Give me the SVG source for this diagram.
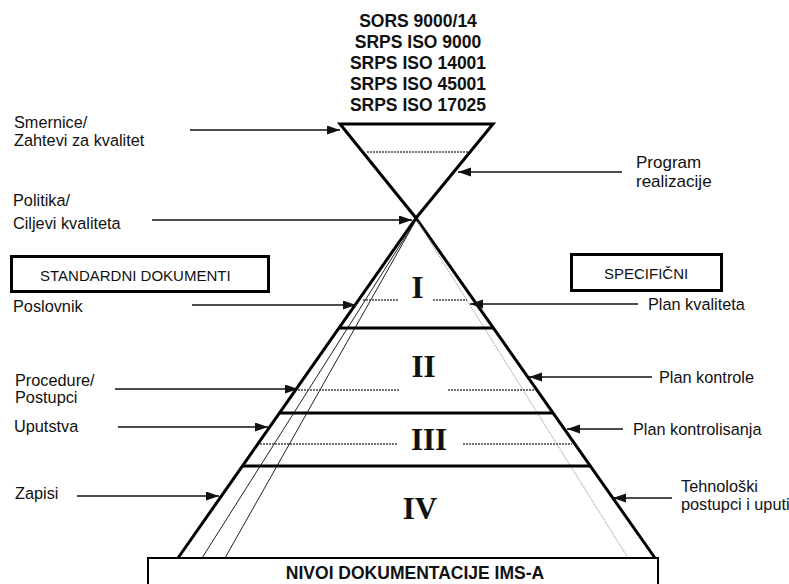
<svg xmlns="http://www.w3.org/2000/svg" width="789" height="584" viewBox="0 0 789 584">
<style>
text{font-family:"Liberation Sans",Arial,sans-serif;fill:#111}
.lbl{font-size:16.3px}
.hdr{font-size:17.5px;font-weight:bold;text-anchor:middle}
.rom{font-family:"Liberation Serif","Times New Roman",serif;font-size:31px;font-weight:bold;text-anchor:middle}
.thick{stroke:#000;stroke-width:3;fill:none}
.thin{stroke:#222;stroke-width:1;fill:none}
.dot{stroke:#444;stroke-width:1.3;stroke-dasharray:2 1;fill:none}
.arr{stroke:#111;stroke-width:1.5;fill:none;marker-end:url(#ah)}
.box{fill:#fff;stroke:#000;stroke-width:3}
</style>
<defs>
<marker id="ah" markerUnits="userSpaceOnUse" markerWidth="14" markerHeight="10" refX="13" refY="4.5" orient="auto">
<path d="M0,0 L13,4.5 L0,9 z" fill="#111"/>
</marker>
</defs>
<rect width="789" height="584" fill="#fff"/>

<g id="standards">
<text class="hdr" x="418" y="27">SORS 9000/14</text>
<text class="hdr" x="418" y="48">SRPS ISO 9000</text>
<text class="hdr" x="418" y="69">SRPS ISO 14001</text>
<text class="hdr" x="418" y="90">SRPS ISO 45001</text>
<text class="hdr" x="418" y="111">SRPS ISO 17025</text>
</g>

<g id="funnel">
<path class="thick" d="M340,124 L493,124 L416,218 Z" stroke-linejoin="miter"/>
<line class="dot" x1="367" y1="152" x2="468" y2="152"/>
</g>

<g id="pyramid">
<line class="thick" x1="416" y1="218" x2="178" y2="558"/>
<line class="thick" x1="416" y1="218" x2="655" y2="558"/>
<line class="thin" x1="416" y1="220" x2="202" y2="558"/>
<line class="thin" x1="416" y1="220" x2="225" y2="558"/>
<line x1="418" y1="222" x2="628" y2="558" stroke="#999" stroke-width="1" stroke-dasharray="1.5 1"/>
<line class="thick" x1="339" y1="328" x2="493" y2="328"/>
<line class="thick" x1="279" y1="413" x2="553" y2="413"/>
<line class="thick" x1="242" y1="466" x2="590" y2="466"/>
<line class="dot" x1="363" y1="300" x2="398" y2="300"/>
<line class="dot" x1="433" y1="300" x2="467" y2="300"/>
<line class="dot" x1="298" y1="390" x2="399" y2="390"/>
<line class="dot" x1="448" y1="390" x2="535" y2="390"/>
<line class="dot" x1="260" y1="444" x2="397" y2="444"/>
<line class="dot" x1="463" y1="444" x2="572" y2="444"/>
</g>

<g id="level-I"><text class="rom" x="417.5" y="298">I</text></g>
<g id="level-II"><text class="rom" x="423.5" y="377">II</text></g>
<g id="level-III"><text class="rom" x="429" y="450">III</text></g>
<g id="level-IV"><text class="rom" x="420" y="519">IV</text></g>

<g id="connectors">
<line class="arr" x1="190" y1="130" x2="340" y2="130"/>
<line class="arr" x1="152" y1="220" x2="412" y2="220"/>
<line class="arr" x1="622" y1="172" x2="458" y2="172"/>
<line class="arr" x1="192" y1="305" x2="356" y2="305"/>
<line class="arr" x1="638" y1="304" x2="470" y2="304"/>
<line class="arr" x1="115" y1="389" x2="298" y2="389"/>
<line class="arr" x1="652" y1="377" x2="529" y2="377"/>
<line class="arr" x1="118" y1="427" x2="268" y2="427"/>
<line class="arr" x1="623" y1="429" x2="567" y2="429"/>
<line class="arr" x1="77" y1="496" x2="219" y2="496"/>
<line class="arr" x1="672" y1="498" x2="613" y2="498"/>
</g>

<g id="label-smernice"><text class="lbl" x="14" y="128">Smernice/</text><text class="lbl" x="14" y="146">Zahtevi za kvalitet</text></g>
<g id="label-politika"><text class="lbl" x="13" y="206">Politika/</text><text class="lbl" x="13" y="229">Ciljevi kvaliteta</text></g>
<g id="label-program"><text x="636" y="168" font-size="17">Program</text><text x="636" y="187" font-size="17">realizacije</text></g>

<g id="box-standardni">
<rect class="box" x="11.5" y="256.5" width="257" height="35"/>
<text x="40" y="281" font-size="15">STANDARDNI DOKUMENTI</text>
</g>
<g id="box-specificni">
<rect class="box" x="571.5" y="254.5" width="150" height="36"/>
<text x="604" y="279" font-size="15">SPECIFIČNI</text>
</g>

<g id="label-poslovnik"><text class="lbl" x="13" y="312">Poslovnik</text></g>
<g id="label-procedure"><text class="lbl" x="15" y="386">Procedure/</text><text class="lbl" x="15" y="403">Postupci</text></g>
<g id="label-uputstva"><text class="lbl" x="14" y="432">Uputstva</text></g>
<g id="label-zapisi"><text class="lbl" x="15" y="499">Zapisi</text></g>

<g id="label-plan-kvaliteta"><text class="lbl" x="648" y="310">Plan kvaliteta</text></g>
<g id="label-plan-kontrole"><text class="lbl" x="659" y="383">Plan kontrole</text></g>
<g id="label-plan-kontrolisanja"><text class="lbl" x="633" y="435">Plan kontrolisanja</text></g>
<g id="label-tehnoloski"><text class="lbl" x="681" y="492">Tehnološki</text><text class="lbl" x="681" y="510">postupci i uputi</text></g>

<g id="box-nivoi">
<rect x="148" y="558" width="510" height="40" fill="#fff" stroke="#000" stroke-width="2"/>
<text x="415" y="579" font-size="17.5" font-weight="bold" text-anchor="middle">NIVOI DOKUMENTACIJE IMS-A</text>
</g>
</svg>
